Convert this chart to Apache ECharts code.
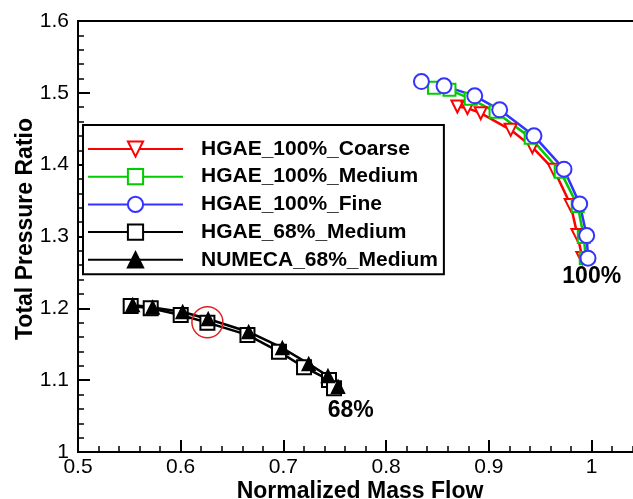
<!DOCTYPE html>
<html>
<head>
<meta charset="utf-8">
<script src="https://cdn.jsdelivr.net/npm/echarts@6/dist/echarts.min.js"></script>
<style>html,body{margin:0;padding:0;background:#fff}#c{width:633px;height:499px}</style>
</head>
<body>
<div id="c"></div>
<script>
var seriesNames = ['HGAE_100%_Coarse','HGAE_100%_Medium','HGAE_100%_Fine','HGAE_68%_Medium','NUMECA_68%_Medium'];
var coarse100X = [0.8694,0.8792,0.8921,0.9213,0.9424,0.9635,0.9797,0.9863,0.9911];
var coarse100Y = [1.4809,1.4787,1.4717,1.4485,1.4244,1.3928,1.3440,1.3022,1.2702];
var medium100X = [0.8466,0.8617,0.8824,0.9066,0.9408,0.9700,0.9866,0.9925,0.9944];
var medium100Y = [1.5070,1.5042,1.4916,1.4735,1.4373,1.3900,1.3426,1.2994,1.2700];
var fine100X = [0.8344,0.8564,0.8863,0.9106,0.9440,0.9732,0.9885,0.9953,0.9966];
var fine100Y = [1.5157,1.5097,1.4958,1.4763,1.4401,1.3937,1.3454,1.3013,1.2698];
var hgae68X = [0.5513,0.5708,0.6000,0.6260,0.6650,0.6957,0.7201,0.7444,0.7493];
var hgae68Y = [1.2033,1.2001,1.1908,1.1801,1.1630,1.1397,1.1180,1.1003,1.0887];
var numeca68X = [0.5533,0.5727,0.6019,0.6268,0.6662,0.6990,0.7246,0.7434,0.7532];
var numeca68Y = [1.2047,1.2013,1.1950,1.1852,1.1671,1.1448,1.1226,1.1058,1.0909];
var highlightPoint = [0.626, 1.1806];
var annotationTexts = ['100%','68%'];
var annotationPos = [[1.0002,1.2442],[0.7655,1.0571]];
var xTicks = {min:0.5, max:1.1, interval:0.1};
var yTicks = {min:1.0, max:1.6, interval:0.1};

function zip(xs, ys){ return xs.map(function(x,i){return [x, ys[i]];}); }
var FONT = 'Liberation Sans, Arial, sans-serif';

var chart = echarts.init(document.getElementById('c'), null, {renderer:'canvas'});
function lineSeries(name, xs, ys, color, symbol, size, rotate){
  return {
    name:name, type:'line', data:zip(xs,ys), symbol:symbol, symbolSize:size,
    symbolRotate: rotate||0,
    color: color,
    lineStyle:{color:color, width:2.5},
    itemStyle:{color:color, borderColor:color, borderWidth:1.5},
    emphasis:{disabled:true}, animation:false, clip:true
  };
}
var option = {
  animation:false,
  grid:{left:78, top:21, width:616.2, height:431, outerBoundsMode:'none', containLabel:false,
        show:true, borderColor:'#000', borderWidth:2, backgroundColor:'transparent'},
  xAxis:{
    type:'value', min:xTicks.min, max:xTicks.max, interval:xTicks.interval,
    axisLine:{show:true, onZero:false, lineStyle:{color:'#000', width:2}},
    axisTick:{show:true, inside:true, length:12, lineStyle:{color:'#000', width:2}},
    minorTick:{show:true, splitNumber:5, length:6, lineStyle:{color:'#000', width:1.5}},
    splitLine:{show:false},
    axisLabel:{color:'#000', fontFamily:FONT, fontSize:21, margin:5}
  },
  yAxis:{
    type:'value', min:yTicks.min, max:yTicks.max, interval:yTicks.interval,
    axisLine:{show:true, onZero:false, lineStyle:{color:'#000', width:2}},
    axisTick:{show:true, inside:true, length:12, lineStyle:{color:'#000', width:2}},
    minorTick:{show:true, splitNumber:5, length:6, lineStyle:{color:'#000', width:1.5}},
    splitLine:{show:false},
    axisLabel:{color:'#000', fontFamily:FONT, fontSize:21, margin:9}
  },
  legend:{
    orient:'vertical', left:83, top:125, padding:[13.5,6,4,4],
    itemWidth:95, itemHeight:19, itemGap:6.7,
    borderColor:'#000', borderWidth:2, backgroundColor:'#fff',
    textStyle:{fontFamily:FONT, fontSize:21, fontWeight:'bold', color:'#000', padding:[0,0,0,13], lineHeight:19},
    data:seriesNames
  },
  series:[
    lineSeries(seriesNames[0], coarse100X, coarse100Y, '#ff0000', 'emptyTriangle', 12, 180),
    lineSeries(seriesNames[1], medium100X, medium100Y, '#00cc00', 'emptyRect', 12),
    lineSeries(seriesNames[2], fine100X, fine100Y, '#3333ff', 'emptyCircle', 15),
    lineSeries(seriesNames[3], hgae68X, hgae68Y, '#000000', 'emptyRect', 14),
    lineSeries(seriesNames[4], numeca68X, numeca68Y, '#000000', 'triangle', 13),
    {
      name:'highlight', type:'scatter', data:[highlightPoint], symbol:'circle', symbolSize:31,
      itemStyle:{color:'rgba(0,0,0,0)', borderColor:'#e02020', borderWidth:1.5, opacity:1}, silent:true, z:5,
      emphasis:{disabled:true}
    },
    {
      name:'annotations', type:'scatter', symbolSize:0, silent:true, z:6,
      itemStyle:{opacity:1}, emphasis:{disabled:true},
      data:annotationPos.map(function(p,i){return {value:p, label:{formatter:annotationTexts[i]}};}),
      label:{show:true, position:'inside', color:'#000', fontFamily:FONT, fontSize:23, fontWeight:'bold'}
    }
  ],
  graphic:[
    {type:'text', x:360, y:492, style:{text:'Normalized Mass Flow', fontFamily:FONT, fontSize:23, fontWeight:'bold', fill:'#000', align:'center', verticalAlign:'middle'}},
    {type:'text', x:26, y:229, rotation:Math.PI/2, style:{text:'Total Pressure Ratio', fontFamily:FONT, fontSize:23, fontWeight:'bold', fill:'#000', align:'center', verticalAlign:'middle'}}
  ]
};
chart.setOption(option);
</script>
</body>
</html>
